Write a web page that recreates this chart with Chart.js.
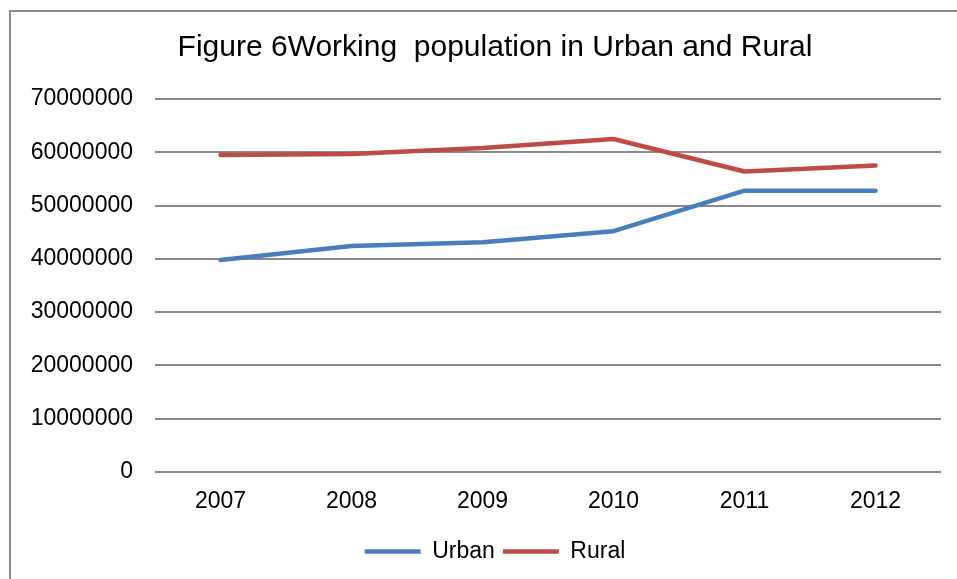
<!DOCTYPE html>
<html>
<head>
<meta charset="utf-8">
<script src="https://cdn.jsdelivr.net/npm/chart.js@4"></script>
<style>
  html, body { margin: 0; padding: 0; background: #fff; overflow: hidden; }
  body { width: 957px; height: 579px; position: relative; }
  .frame {
    position: absolute; left: 9px; top: 10px;
    width: 1100px; height: 700px;
    border: 2px solid #8a8a8a;
  }
  .chart__box { position: absolute; left: 0; top: 0; width: 957px; height: 579px; }
</style>
</head>
<body>
<div class="frame"></div>
<div class="chart__box"><canvas id="population__line"></canvas></div>
<script>
const years = ["2007", "2008", "2009", "2010", "2011", "2012"];
const urban = [39800000, 42400000, 43100000, 45200000, 52800000, 52800000];
const rural = [59500000, 59700000, 60800000, 62500000, 56400000, 57500000];
const yTicks = [0, 10000000, 20000000, 30000000, 40000000, 50000000, 60000000, 70000000];

const FONT = "'Liberation Sans', Arial, sans-serif";

// the y labels sit in the left padding, so widen the label clip area
const unclipLabels = {
  id: "unclipLabels",
  afterLayout(chart) {
    chart.scales.y.left = 0;
  },
};

function setPopulationChart() {
  const data = {
    labels: years,
    datasets: [
      {
        label: "Urban",
        borderColor: "#4A7EBB",
        backgroundColor: "#4A7EBB",
        borderWidth: 4.5,
        borderCapStyle: "round",
        borderJoinStyle: "round",
        data: urban,
      },
      {
        label: "Rural",
        borderColor: "#BE4B48",
        backgroundColor: "#BE4B48",
        borderWidth: 4.5,
        borderCapStyle: "round",
        borderJoinStyle: "round",
        data: rural,
      },
    ],
  };

  const config = {
    type: "line",
    data: data,
    plugins: [unclipLabels],
    options: {
      responsive: false,
      animation: false,
      layout: { padding: { top: 0, left: 49, right: 16, bottom: 6 } },
      elements: {
        point: { radius: 0 },
        line: { tension: 0 },
      },
      plugins: {
        title: {
          display: true,
          text: "Figure 6Working  population in Urban and Rural",
          color: "#000",
          font: { family: FONT, size: 30, weight: "normal" },
          padding: { top: 30, bottom: 33 },
        },
        legend: {
          position: "bottom",
          labels: {
            usePointStyle: true,
            pointStyle: "line",
            pointStyleWidth: 56,
            color: "#000",
            padding: 8,
            font: { family: FONT, size: 23 },
          },
        },
        tooltip: { enabled: false },
      },
      scales: {
        x: {
          offset: true,
          grid: { display: false },
          border: { display: false },
          ticks: {
            color: "#000",
            padding: 8,
            maxRotation: 0,
            font: { family: FONT, size: 23 },
          },
          afterFit: (scale) => {
            scale.height = 60;
          },
        },
        y: {
          min: 0,
          max: 70000000,
          afterBuildTicks: (scale) => {
            scale.ticks = yTicks.map((v) => ({ value: v }));
          },
          grid: { color: "#8a8a8a", lineWidth: 2, drawTicks: false },
          border: { display: false },
          ticks: {
            color: "#000",
            padding: 22,
            font: { family: FONT, size: 23 },
            callback: (v) => String(v),
          },
          afterFit: (scale) => {
            scale.width = 106;
          },
        },
      },
    },
  };

  const canvas = document.querySelector("#population__line");
  canvas.width = 957;
  canvas.height = 579;
  new Chart(canvas, config);
}

setPopulationChart();
</script>
</body>
</html>
